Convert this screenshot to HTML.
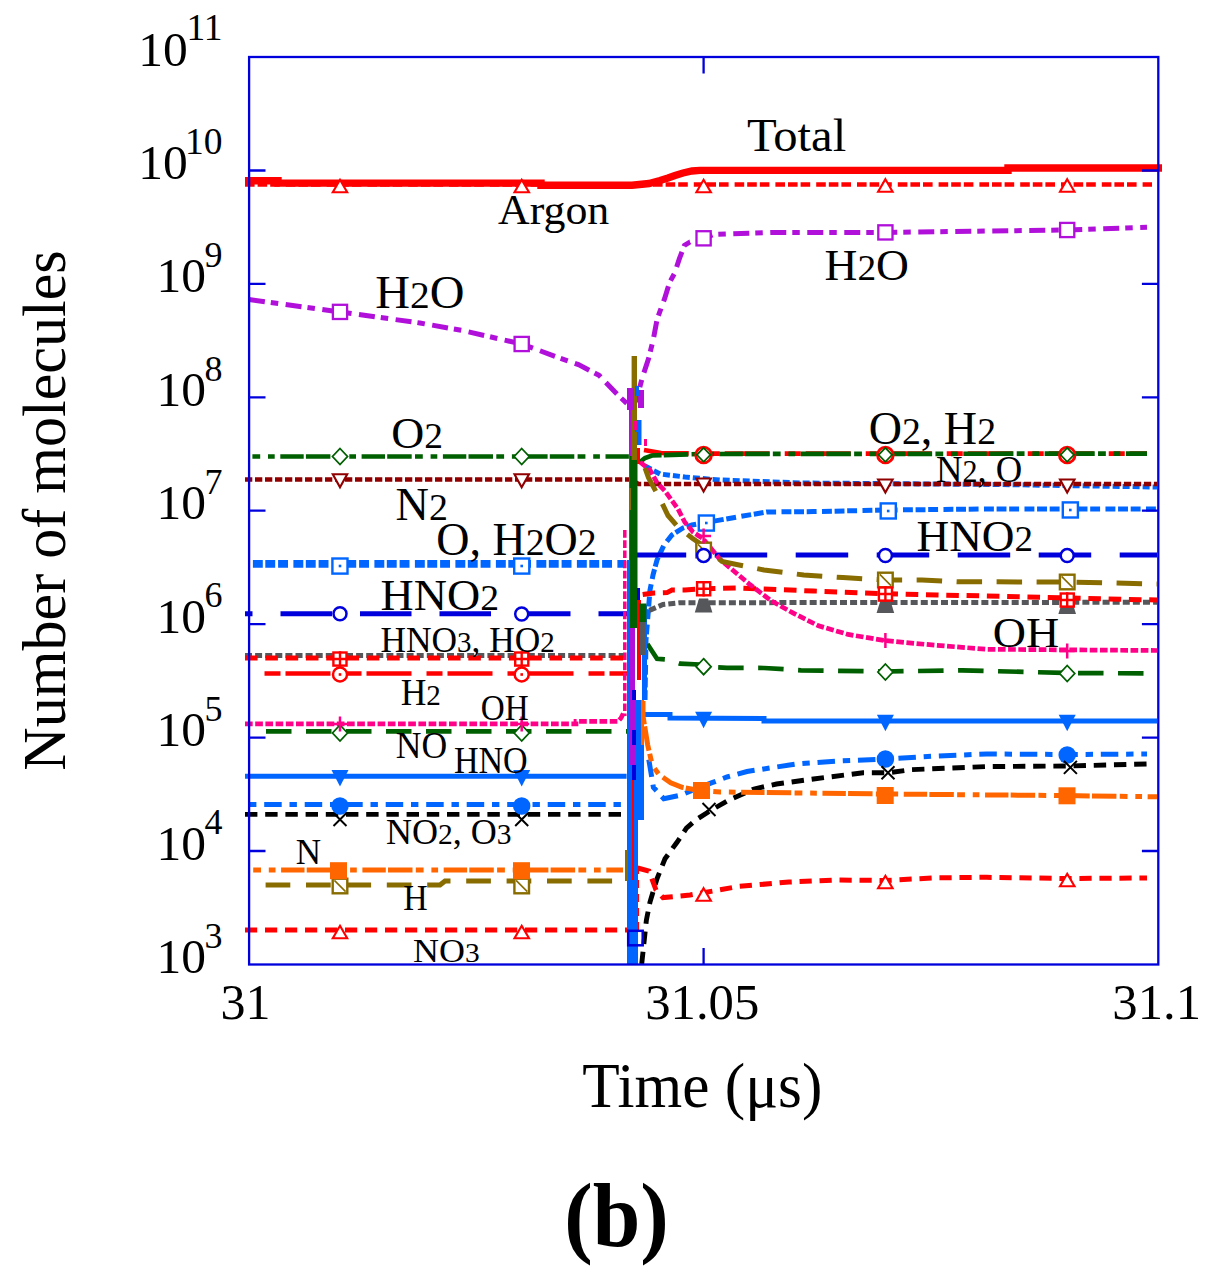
<!DOCTYPE html>
<html><head><meta charset="utf-8"><style>
html,body{margin:0;padding:0;background:#fff;}
svg{display:block;}
</style></head><body>
<svg width="1214" height="1276" viewBox="0 0 1214 1276">
<rect width="1214" height="1276" fill="#fff"/>
<polyline points="245.0,184.5 1152.0,184.5" fill="none" stroke="#ff0000" stroke-width="4.4" stroke-linecap="butt" stroke-linejoin="miter" stroke-dasharray="9.6,3,9.6,3,9.6,6"/>
<polyline points="245.0,180.7 278.0,180.7 278.0,183.1 541.0,183.1 541.0,185.3 632.0,185.3 649.0,183.5 660.0,180.5 668.0,178.0 675.0,175.5 683.0,173.0 692.0,171.0 700.0,170.4 1008.0,170.4 1008.0,168.0 1162.0,168.0" fill="none" stroke="#ff0000" stroke-width="7.4" stroke-linecap="butt" stroke-linejoin="miter"/>
<polyline points="249.0,299.5 340.0,311.9 420.0,323.0 462.0,330.4 521.7,344.0 559.5,358.0 578.5,364.6 599.0,375.3 618.8,396.0 628.7,405.0 632.0,408.0 637.0,398.0 642.0,378.6 648.5,358.8 653.4,339.0 657.2,318.8 664.6,298.7 669.5,282.6 674.5,273.5 679.4,258.7 684.4,245.5 690.0,242.0 703.7,238.5 714.0,234.4 771.0,232.5 885.0,232.4 1067.0,230.0 1147.0,227.3" fill="none" stroke="#b010da" stroke-width="5" stroke-linecap="butt" stroke-linejoin="miter" stroke-dasharray="16,6,7.5,7.5"/>
<polyline points="645.0,466.0 660.0,474.0 685.0,477.0 720.0,480.0 800.0,483.0 1000.0,484.5 1157.0,487.0" fill="none" stroke="#0066ff" stroke-width="5" stroke-linecap="butt" stroke-linejoin="miter" stroke-dasharray="7,3"/>
<polyline points="252.9,563.8 626.0,563.8" fill="none" stroke="#0066ff" stroke-width="7.8" stroke-linecap="butt" stroke-linejoin="miter" stroke-dasharray="9.9,2.5,9.9,2.9,9.9,5.4"/>
<polyline points="645.0,700.0 646.0,640.0 648.0,615.0 650.0,590.0 653.0,575.0 657.0,560.0 664.0,545.0 672.0,535.0 683.0,528.0 692.0,525.0 706.0,522.5 739.4,516.6 766.6,512.0 813.5,511.6 887.7,510.0 990.0,509.0 1157.0,509.0" fill="none" stroke="#0066ff" stroke-width="5" stroke-linecap="butt" stroke-linejoin="miter" stroke-dasharray="9.9,2.7,9.9,2.7,9.9,5.4"/>
<polyline points="245.0,479.5 630.0,479.5 638.6,484.0 1157.0,484.0" fill="none" stroke="#900000" stroke-width="4.7" stroke-linecap="butt" stroke-linejoin="miter" stroke-dasharray="7.3,2.7"/>
<polyline points="264.5,673.5 630.0,673.5" fill="none" stroke="#ff0000" stroke-width="4.7" stroke-linecap="butt" stroke-linejoin="miter" stroke-dasharray="45,15,16,5" stroke-dashoffset="60"/>
<polyline points="644.0,450.0 661.0,453.0 700.0,453.6 1147.0,453.6" fill="none" stroke="#ff0000" stroke-width="4.7" stroke-linecap="butt" stroke-linejoin="miter" stroke-dasharray="45,15,16,5"/>
<polyline points="252.4,456.5 630.0,456.5" fill="none" stroke="#005f00" stroke-width="4.7" stroke-linecap="butt" stroke-linejoin="miter" stroke-dasharray="23.4,2.2,24.5,3.3,7.8,7.8,6.7,5.6" stroke-dashoffset="53.4"/>
<polyline points="640.0,462.0 645.0,458.0 652.0,455.5 700.0,454.0 1147.0,453.6" fill="none" stroke="#005f00" stroke-width="4.7" stroke-linecap="butt" stroke-linejoin="miter" stroke-dasharray="23.4,2.2,24.5,3.3,7.8,7.8,6.7,5.6"/>
<polyline points="245.0,613.7 630.0,613.7" fill="none" stroke="#0000dc" stroke-width="5" stroke-linecap="butt" stroke-linejoin="miter" stroke-dasharray="51.5,28" stroke-dashoffset="44"/>
<polyline points="637.0,555.0 1157.0,555.0" fill="none" stroke="#0000dc" stroke-width="5" stroke-linecap="butt" stroke-linejoin="miter" stroke-dasharray="52.5,28.5" stroke-dashoffset="3.3"/>
<polyline points="245.0,655.4 630.0,655.4" fill="none" stroke="#55575a" stroke-width="5" stroke-linecap="butt" stroke-linejoin="miter" stroke-dasharray="7,3.1"/>
<polyline points="649.4,610.4 663.0,604.5 680.0,602.7 1157.0,602.3" fill="none" stroke="#55575a" stroke-width="5" stroke-linecap="butt" stroke-linejoin="miter" stroke-dasharray="7,3.1"/>
<polyline points="245.0,658.0 630.0,658.0" fill="none" stroke="#ff0000" stroke-width="5" stroke-linecap="butt" stroke-linejoin="miter" stroke-dasharray="12.6,7.7"/>
<polyline points="642.7,594.6 654.0,593.0 667.0,592.6 672.0,590.0 685.0,590.0 703.3,588.7 739.0,588.0 813.5,591.0 885.0,593.7 937.0,595.0 986.5,596.0 1067.0,598.0 1157.0,600.0" fill="none" stroke="#ff0000" stroke-width="5" stroke-linecap="butt" stroke-linejoin="miter" stroke-dasharray="12.6,7.7"/>
<polyline points="245.0,723.9 576.0,723.9 576.0,721.4 618.0,721.4 621.0,718.0 624.0,712.0" fill="none" stroke="#ff0088" stroke-width="4.7" stroke-linecap="butt" stroke-linejoin="miter" stroke-dasharray="7.7,2.5"/>
<polyline points="640.0,462.0 650.0,470.0 657.0,482.6 665.0,491.0 678.0,509.0 684.7,522.0 693.0,532.0 703.0,538.6 719.6,559.0 749.0,583.8 771.5,601.0 793.8,613.4 818.5,625.8 848.0,634.4 885.0,640.6 924.7,644.3 986.5,649.3 1157.0,650.5" fill="none" stroke="#ff0088" stroke-width="4.7" stroke-linecap="butt" stroke-linejoin="miter" stroke-dasharray="7.7,2.5"/>
<polyline points="266.0,731.3 630.0,731.3" fill="none" stroke="#005f00" stroke-width="4.7" stroke-linecap="butt" stroke-linejoin="miter" stroke-dasharray="25.5,14.5"/>
<polyline points="647.4,644.0 657.0,658.8 667.0,659.5 680.0,663.7 699.0,664.5 703.8,666.7 727.0,667.8 764.0,668.0 801.0,670.3 885.0,671.5 962.0,670.3 1066.8,673.0 1157.0,673.4" fill="none" stroke="#005f00" stroke-width="4.7" stroke-linecap="butt" stroke-linejoin="miter" stroke-dasharray="25.5,14.5"/>
<polyline points="245.0,776.3 626.6,776.3" fill="none" stroke="#0066ff" stroke-width="5" stroke-linecap="butt" stroke-linejoin="miter"/>
<polyline points="645.0,714.6 670.0,714.6 670.0,718.0 764.0,718.4 764.0,721.0 1157.0,721.0" fill="none" stroke="#0066ff" stroke-width="5" stroke-linecap="butt" stroke-linejoin="miter"/>
<polyline points="249.0,804.5 621.5,804.5" fill="none" stroke="#0066ff" stroke-width="5" stroke-linecap="butt" stroke-linejoin="miter" stroke-dasharray="17.5,7.8,7.4,7.8" stroke-dashoffset="25.3"/>
<polyline points="648.8,759.6 653.4,787.3 663.8,798.8 680.0,795.3 712.0,782.7 727.0,777.0 747.0,771.5 796.0,764.0 838.0,761.0 885.0,759.0 937.0,756.0 986.5,754.0 1066.8,754.5 1147.0,754.0" fill="none" stroke="#0066ff" stroke-width="5" stroke-linecap="butt" stroke-linejoin="miter" stroke-dasharray="17.5,7.8,7.4,7.8"/>
<polyline points="245.0,814.4 626.0,814.4" fill="none" stroke="#000000" stroke-width="4.9" stroke-linecap="butt" stroke-linejoin="miter" stroke-dasharray="12.4,7.8"/>
<polyline points="641.7,964.0 646.4,920.0 650.0,902.0 657.0,878.8 665.0,858.8 677.0,842.3 686.4,828.2 695.8,820.0 709.8,811.0 727.0,801.0 754.0,789.0 776.5,784.0 813.5,779.0 863.0,772.8 887.7,772.8 912.0,769.6 986.5,766.6 1066.8,766.0 1147.0,764.0" fill="none" stroke="#000000" stroke-width="4.9" stroke-linecap="butt" stroke-linejoin="miter" stroke-dasharray="12.4,7.8"/>
<polyline points="253.2,870.0 623.0,870.0" fill="none" stroke="#ff6600" stroke-width="5" stroke-linecap="butt" stroke-linejoin="miter" stroke-dasharray="23.4,2.2,24.5,3.3,7.8,7.8,6.7,5.6" stroke-dashoffset="53.4"/>
<polyline points="643.0,701.0 643.0,716.0 647.7,745.0 652.3,765.3 659.0,774.6 670.7,782.7 682.0,787.3 700.7,790.7 720.0,792.0 885.0,794.0 1066.8,795.6 1157.0,796.8" fill="none" stroke="#ff6600" stroke-width="5" stroke-linecap="butt" stroke-linejoin="miter" stroke-dasharray="23.4,2.2,24.5,3.3,7.8,7.8,6.7,5.6"/>
<polyline points="265.6,885.0 440.0,885.0 445.0,881.0 624.0,881.0" fill="none" stroke="#886c00" stroke-width="5" stroke-linecap="butt" stroke-linejoin="miter" stroke-dasharray="24.7,15.7"/>
<polyline points="645.0,468.0 648.5,477.7 660.0,499.0 668.0,515.5 678.0,527.0 692.0,538.0 703.6,546.0 722.0,561.5 739.0,565.0 764.0,570.0 803.7,575.0 843.0,577.6 885.0,580.0 922.0,580.0 959.0,581.8 1066.8,582.0 1157.0,584.0" fill="none" stroke="#886c00" stroke-width="5" stroke-linecap="butt" stroke-linejoin="miter" stroke-dasharray="25.5,14.5"/>
<polyline points="245.0,930.0 628.0,930.0" fill="none" stroke="#ff0000" stroke-width="5" stroke-linecap="butt" stroke-linejoin="miter" stroke-dasharray="12.2,7.8"/>
<polyline points="637.6,930.0 637.6,866.0" fill="none" stroke="#ff0000" stroke-width="3" stroke-linecap="butt" stroke-linejoin="miter" stroke-dasharray="8,6"/>
<polyline points="637.6,868.0 649.0,871.0 656.0,890.0 663.0,897.6 690.0,895.0 702.0,893.0 739.0,886.4 789.0,882.0 838.0,880.0 885.0,880.5 937.0,877.8 986.5,877.3 1066.8,878.5 1147.0,878.0" fill="none" stroke="#ff0000" stroke-width="5" stroke-linecap="butt" stroke-linejoin="miter" stroke-dasharray="12.2,7.8"/>
<rect x="627" y="700" width="17" height="120" fill="#0066ff"/>
<rect x="627" y="820" width="11" height="144" fill="#0066ff"/>
<rect x="627" y="560" width="3" height="140" fill="#0066ff"/>
<rect x="642" y="605" width="5" height="95" fill="#0066ff"/>
<rect x="629" y="388" width="6" height="377" fill="#b010da"/>
<rect x="630" y="456" width="7.5" height="172" fill="#005f00"/>
<rect x="637" y="588" width="3" height="28" fill="#0000dc"/>
<rect x="632" y="690" width="4" height="10" fill="#0000dc"/>
<rect x="632" y="730" width="4" height="15" fill="#0000dc"/>
<rect x="632" y="765" width="4" height="15" fill="#0000dc"/>
<rect x="637" y="448" width="3" height="16" fill="#ff0000"/>
<rect x="637" y="600" width="4" height="80" fill="#ff0000"/>
<rect x="632" y="780" width="2" height="100" fill="#ff0000"/>
<rect x="631.6" y="356" width="5.399999999999977" height="104" fill="#886c00"/>
<rect x="629" y="488" width="2" height="22" fill="#886c00"/>
<polyline points="624.8,530.0 624.8,716.0" fill="none" stroke="#ff0088" stroke-width="3.5" stroke-linecap="butt" stroke-linejoin="miter" stroke-dasharray="7.7,2.5"/>
<rect x="641" y="700" width="3" height="45" fill="#ff6600"/>
<rect x="640" y="611" width="5" height="44" fill="#55575a"/>
<rect x="625" y="850" width="3" height="31" fill="#886c00"/>
<rect x="639.5" y="603.5" width="6.899999999999977" height="18.5" fill="#005f00"/>
<rect x="628.2" y="930.8" width="14.5" height="14.5" fill="none" stroke="#0000dc" stroke-width="2.5"/>
<rect x="627" y="388" width="7" height="22" fill="#b010da"/>
<rect x="638" y="390" width="6" height="18" fill="#b010da"/>
<rect x="635" y="386" width="4" height="10" fill="#0066ff"/>
<rect x="635" y="424" width="4" height="8" fill="#0066ff"/>
<rect x="634" y="421" width="3" height="9" fill="#ff0088"/>
<rect x="644" y="439" width="3" height="7" fill="#ff0088"/>
<rect x="637" y="420" width="4.5" height="25" fill="#0066ff"/>
<polygon points="340.0,179.8 347.2,192.2 332.8,192.2" fill="#fff" stroke="#ff0000" stroke-width="2.1"/>
<polygon points="521.7,179.8 529.0,192.2 514.5,192.2" fill="#fff" stroke="#ff0000" stroke-width="2.1"/>
<polygon points="703.6,179.8 710.9,192.2 696.4,192.2" fill="#fff" stroke="#ff0000" stroke-width="2.1"/>
<polygon points="885.4,179.2 892.6,191.8 878.1,191.8" fill="#fff" stroke="#ff0000" stroke-width="2.1"/>
<polygon points="1067.2,179.2 1074.5,191.8 1060.0,191.8" fill="#fff" stroke="#ff0000" stroke-width="2.1"/>
<rect x="332.9" y="304.8" width="14.2" height="14.2" fill="#fff" stroke="#b010da" stroke-width="2.3"/>
<rect x="514.6" y="336.9" width="14.2" height="14.2" fill="#fff" stroke="#b010da" stroke-width="2.3"/>
<rect x="696.5" y="231.2" width="14.2" height="14.2" fill="#fff" stroke="#b010da" stroke-width="2.3"/>
<rect x="878.3" y="225.3" width="14.2" height="14.2" fill="#fff" stroke="#b010da" stroke-width="2.3"/>
<rect x="1060.1" y="222.9" width="14.2" height="14.2" fill="#fff" stroke="#b010da" stroke-width="2.3"/>
<polygon points="340.0,487.3 347.2,474.3 332.8,474.3" fill="#fff" stroke="#900000" stroke-width="2.1"/>
<polygon points="521.7,487.3 529.0,474.3 514.5,474.3" fill="#fff" stroke="#900000" stroke-width="2.1"/>
<polygon points="703.6,491.5 710.9,478.5 696.4,478.5" fill="#fff" stroke="#900000" stroke-width="2.1"/>
<polygon points="885.4,492.5 892.6,479.5 878.1,479.5" fill="#fff" stroke="#900000" stroke-width="2.1"/>
<polygon points="1067.2,492.5 1074.5,479.5 1060.0,479.5" fill="#fff" stroke="#900000" stroke-width="2.1"/>
<rect x="332.4" y="558.5" width="15.1" height="15.1" fill="#fff" stroke="#0066ff" stroke-width="2.4"/>
<rect x="338.7" y="564.7" width="2.6" height="2.6" fill="#0066ff"/>
<rect x="514.2" y="558.5" width="15.1" height="15.1" fill="#fff" stroke="#0066ff" stroke-width="2.4"/>
<rect x="520.4" y="564.7" width="2.6" height="2.6" fill="#0066ff"/>
<rect x="698.8" y="515.5" width="15.1" height="15.1" fill="#fff" stroke="#0066ff" stroke-width="2.4"/>
<rect x="705.0" y="521.7" width="2.6" height="2.6" fill="#0066ff"/>
<rect x="880.7" y="503.4" width="15.1" height="15.1" fill="#fff" stroke="#0066ff" stroke-width="2.4"/>
<rect x="886.9" y="509.7" width="2.6" height="2.6" fill="#0066ff"/>
<rect x="1062.8" y="502.4" width="15.1" height="15.1" fill="#fff" stroke="#0066ff" stroke-width="2.4"/>
<rect x="1069.0" y="508.7" width="2.6" height="2.6" fill="#0066ff"/>
<circle cx="340" cy="674.5" r="7.00" fill="#fff" stroke="#ff0000" stroke-width="2.5"/>
<rect x="338.7" y="673.2" width="2.6" height="2.6" fill="#ff0000"/>
<circle cx="521.7" cy="674.5" r="7.00" fill="#fff" stroke="#ff0000" stroke-width="2.5"/>
<rect x="520.4" y="673.2" width="2.6" height="2.6" fill="#ff0000"/>
<circle cx="703.6" cy="455" r="7.85" fill="#fff" stroke="#ff0000" stroke-width="2.8"/>
<rect x="702.3" y="453.7" width="2.6" height="2.6" fill="#ff0000"/>
<circle cx="885.4" cy="455" r="7.85" fill="#fff" stroke="#ff0000" stroke-width="2.8"/>
<rect x="884.1" y="453.7" width="2.6" height="2.6" fill="#ff0000"/>
<circle cx="1067.2" cy="455" r="7.85" fill="#fff" stroke="#ff0000" stroke-width="2.8"/>
<rect x="1065.9" y="453.7" width="2.6" height="2.6" fill="#ff0000"/>
<polygon points="340.0,448.5 347.5,456.5 340.0,464.5 332.5,456.5" fill="#fff" stroke="#005f00" stroke-width="1.8"/>
<polygon points="521.7,448.5 529.2,456.5 521.7,464.5 514.2,456.5" fill="#fff" stroke="#005f00" stroke-width="1.8"/>
<polygon points="703.6,447.8 710.4,454.8 703.6,461.8 696.9,454.8" fill="#fff" stroke="#005f00" stroke-width="1.8"/>
<polygon points="885.4,447.8 892.1,454.8 885.4,461.8 878.6,454.8" fill="#fff" stroke="#005f00" stroke-width="1.8"/>
<polygon points="1067.2,447.8 1074.0,454.8 1067.2,461.8 1060.5,454.8" fill="#fff" stroke="#005f00" stroke-width="1.8"/>
<rect x="332.7" y="878.7" width="14.6" height="14.6" fill="#fff" stroke="#886c00" stroke-width="2.4"/>
<path d="M334.4,880.4L345.6,891.6" stroke="#886c00" stroke-width="1.6" fill="none"/>
<rect x="514.4" y="878.7" width="14.6" height="14.6" fill="#fff" stroke="#886c00" stroke-width="2.4"/>
<path d="M516.1,880.4L527.3000000000001,891.6" stroke="#886c00" stroke-width="1.6" fill="none"/>
<rect x="696.3" y="542.7" width="14.6" height="14.6" fill="#fff" stroke="#886c00" stroke-width="2.4"/>
<path d="M698.0,544.4L709.2,555.6" stroke="#886c00" stroke-width="1.6" fill="none"/>
<rect x="878.1" y="572.7" width="14.6" height="14.6" fill="#fff" stroke="#886c00" stroke-width="2.4"/>
<path d="M879.8,574.4L891.0,585.6" stroke="#886c00" stroke-width="1.6" fill="none"/>
<rect x="1059.9" y="574.7" width="14.6" height="14.6" fill="#fff" stroke="#886c00" stroke-width="2.4"/>
<path d="M1061.6000000000001,576.4L1072.8,587.6" stroke="#886c00" stroke-width="1.6" fill="none"/>
<circle cx="340" cy="613.7" r="6.50" fill="#fff" stroke="#0000dc" stroke-width="2.5"/>
<circle cx="521.7" cy="614" r="6.50" fill="#fff" stroke="#0000dc" stroke-width="2.5"/>
<circle cx="703.6" cy="555.4" r="6.50" fill="#fff" stroke="#0000dc" stroke-width="2.5"/>
<circle cx="885.4" cy="555.5" r="6.50" fill="#fff" stroke="#0000dc" stroke-width="2.5"/>
<circle cx="1067.2" cy="555.6" r="6.50" fill="#fff" stroke="#0000dc" stroke-width="2.5"/>
<polygon points="699.1,598.5 708.1,598.5 712.4,612.5 694.8,612.5" fill="#55575a"/>
<polygon points="880.9,599.0 889.9,599.0 894.2,613.0 876.6,613.0" fill="#55575a"/>
<polygon points="1062.7,600.0 1071.7,600.0 1076.0,614.0 1058.4,614.0" fill="#55575a"/>
<rect x="333.4" y="652.5" width="13.1" height="13.1" fill="#fff" stroke="#ff0000" stroke-width="2.4"/>
<path d="M332.25,659H347.75M340,651.25V666.75" stroke="#ff0000" stroke-width="2.4" fill="none"/>
<rect x="515.2" y="652.5" width="13.1" height="13.1" fill="#fff" stroke="#ff0000" stroke-width="2.4"/>
<path d="M513.95,659H529.45M521.7,651.25V666.75" stroke="#ff0000" stroke-width="2.4" fill="none"/>
<rect x="697.1" y="582.2" width="13.1" height="13.1" fill="#fff" stroke="#ff0000" stroke-width="2.4"/>
<path d="M695.85,588.7H711.35M703.6,580.95V596.45" stroke="#ff0000" stroke-width="2.4" fill="none"/>
<rect x="878.9" y="587.5" width="13.1" height="13.1" fill="#fff" stroke="#ff0000" stroke-width="2.4"/>
<path d="M877.65,594H893.15M885.4,586.25V601.75" stroke="#ff0000" stroke-width="2.4" fill="none"/>
<rect x="1060.7" y="593.5" width="13.1" height="13.1" fill="#fff" stroke="#ff0000" stroke-width="2.4"/>
<path d="M1059.45,600H1074.95M1067.2,592.25V607.75" stroke="#ff0000" stroke-width="2.4" fill="none"/>
<polygon points="340.0,725.0 347.5,733.0 340.0,741.0 332.5,733.0" fill="#fff" stroke="#005f00" stroke-width="1.8"/>
<polygon points="521.7,725.0 529.2,733.0 521.7,741.0 514.2,733.0" fill="#fff" stroke="#005f00" stroke-width="1.8"/>
<polygon points="703.6,658.7 711.1,666.7 703.6,674.7 696.1,666.7" fill="#fff" stroke="#005f00" stroke-width="1.8"/>
<polygon points="885.4,664.0 892.9,672.0 885.4,680.0 877.9,672.0" fill="#fff" stroke="#005f00" stroke-width="1.8"/>
<polygon points="1067.2,665.5 1074.7,673.5 1067.2,681.5 1059.7,673.5" fill="#fff" stroke="#005f00" stroke-width="1.8"/>
<path d="M332.5,724H347.5M340,716.5V731.5" stroke="#ff0088" stroke-width="2.5" fill="none"/>
<path d="M514.2,724H529.2M521.7,716.5V731.5" stroke="#ff0088" stroke-width="2.5" fill="none"/>
<path d="M696.1,536H711.1M703.6,528.5V543.5" stroke="#ff0088" stroke-width="2.5" fill="none"/>
<path d="M877.9,640.6H892.9M885.4,633.1V648.1" stroke="#ff0088" stroke-width="2.5" fill="none"/>
<path d="M1059.7,651H1074.7M1067.2,643.5V658.5" stroke="#ff0088" stroke-width="2.5" fill="none"/>
<polygon points="340.0,786.4 348.5,770.0 331.5,770.0" fill="#0066ff" stroke="#0066ff" stroke-width="0"/>
<polygon points="521.7,786.4 530.2,770.0 513.2,770.0" fill="#0066ff" stroke="#0066ff" stroke-width="0"/>
<polygon points="703.6,728.2 712.1,711.8 695.1,711.8" fill="#0066ff" stroke="#0066ff" stroke-width="0"/>
<polygon points="885.4,731.2 893.9,714.8 876.9,714.8" fill="#0066ff" stroke="#0066ff" stroke-width="0"/>
<polygon points="1067.2,731.2 1075.7,714.8 1058.7,714.8" fill="#0066ff" stroke="#0066ff" stroke-width="0"/>
<circle cx="340" cy="806" r="8.75" fill="#0066ff"/>
<circle cx="521.7" cy="806" r="8.75" fill="#0066ff"/>
<circle cx="885.4" cy="759" r="8.75" fill="#0066ff"/>
<circle cx="1067.2" cy="755" r="8.75" fill="#0066ff"/>
<path d="M333.5,813.0L346.5,826.0M346.5,813.0L333.5,826.0" stroke="#000000" stroke-width="2" fill="none"/>
<path d="M515.2,813.0L528.2,826.0M528.2,813.0L515.2,826.0" stroke="#000000" stroke-width="2" fill="none"/>
<path d="M702.5,803.0L715.5,816.0M715.5,803.0L702.5,816.0" stroke="#000000" stroke-width="2" fill="none"/>
<path d="M881.5,766.3L894.5,779.3M894.5,766.3L881.5,779.3" stroke="#000000" stroke-width="2" fill="none"/>
<path d="M1063.9,760.9L1076.9,773.9M1076.9,760.9L1063.9,773.9" stroke="#000000" stroke-width="2" fill="none"/>
<rect x="330.0" y="862.2" width="17" height="17" fill="#ff6600"/>
<rect x="513.0" y="862.2" width="17" height="17" fill="#ff6600"/>
<rect x="693.0" y="782.0" width="17" height="17" fill="#ff6600"/>
<rect x="876.7" y="787.0" width="17" height="17" fill="#ff6600"/>
<rect x="1058.5" y="787.3" width="17" height="17" fill="#ff6600"/>
<polygon points="340.0,925.8 347.2,938.2 332.8,938.2" fill="#fff" stroke="#ff0000" stroke-width="2.1"/>
<polygon points="521.7,925.8 529.0,938.2 514.5,938.2" fill="#fff" stroke="#ff0000" stroke-width="2.1"/>
<polygon points="703.6,888.2 710.9,900.8 696.4,900.8" fill="#fff" stroke="#ff0000" stroke-width="2.1"/>
<polygon points="885.4,875.8 892.6,888.2 878.1,888.2" fill="#fff" stroke="#ff0000" stroke-width="2.1"/>
<polygon points="1067.2,873.8 1074.5,886.2 1060.0,886.2" fill="#fff" stroke="#ff0000" stroke-width="2.1"/>
<rect x="249.1" y="57" width="909.2" height="907.5" fill="none" stroke="#0000dc" stroke-width="2.3"/>
<path d="M249.1,851.0H265.5M1141.9,851.0H1158.3M249.1,737.6H265.5M1141.9,737.6H1158.3M249.1,624.1H265.5M1141.9,624.1H1158.3M249.1,510.7H265.5M1141.9,510.7H1158.3M249.1,397.3H265.5M1141.9,397.3H1158.3M249.1,283.9H265.5M1141.9,283.9H1158.3M249.1,170.5H265.5M1141.9,170.5H1158.3M703.6,57V73.4M703.6,948V964.5" stroke="#0000dc" stroke-width="2.3" fill="none"/>
<text transform="translate(746.93,151.00) scale(1.0457,1)" font-family="Liberation Serif, serif" font-size="46.52" font-weight="normal" fill="#000">Total</text>
<text transform="translate(498.06,223.50) scale(1.0149,1)" font-family="Liberation Serif, serif" font-size="43.18" font-weight="normal" fill="#000">Argon</text>
<text transform="translate(824.53,279.50) scale(1.0130,1)" font-family="Liberation Serif, serif" font-size="44.92" font-weight="normal" fill="#000">H<tspan font-size="36.84">2</tspan>O</text>
<text transform="translate(375.16,307.50) scale(1.0328,1)" font-family="Liberation Serif, serif" font-size="46.62" font-weight="normal" fill="#000">H<tspan font-size="38.22">2</tspan>O</text>
<text transform="translate(391.17,447.80) scale(1.0463,1)" font-family="Liberation Serif, serif" font-size="43.69" font-weight="normal" fill="#000">O<tspan font-size="35.83">2</tspan></text>
<text transform="translate(868.66,443.70) scale(1.0085,1)" font-family="Liberation Serif, serif" font-size="45.69" font-weight="normal" fill="#000">O<tspan font-size="37.47">2</tspan>, H<tspan font-size="37.47">2</tspan></text>
<text transform="translate(935.90,481.70) scale(0.9649,1)" font-family="Liberation Serif, serif" font-size="38.00" font-weight="normal" fill="#000">N<tspan font-size="31.16">2</tspan>, O</text>
<text transform="translate(395.61,519.80) scale(1.0151,1)" font-family="Liberation Serif, serif" font-size="45.54" font-weight="normal" fill="#000">N<tspan font-size="37.34">2</tspan></text>
<text transform="translate(436.26,554.50) scale(1.0108,1)" font-family="Liberation Serif, serif" font-size="45.54" font-weight="normal" fill="#000">O, H<tspan font-size="37.34">2</tspan>O<tspan font-size="37.34">2</tspan></text>
<text transform="translate(380.62,610.00) scale(1.0528,1)" font-family="Liberation Serif, serif" font-size="43.69" font-weight="normal" fill="#000">HNO<tspan font-size="35.83">2</tspan></text>
<text transform="translate(916.44,551.20) scale(1.0184,1)" font-family="Liberation Serif, serif" font-size="44.46" font-weight="normal" fill="#000">HNO<tspan font-size="36.46">2</tspan></text>
<text transform="translate(380.44,652.00) scale(0.9652,1)" font-family="Liberation Serif, serif" font-size="36.62" font-weight="normal" fill="#000">HNO<tspan font-size="30.02">3</tspan>, HO<tspan font-size="30.02">2</tspan></text>
<text transform="translate(992.66,646.80) scale(1.0759,1)" font-family="Liberation Serif, serif" font-size="42.77" font-weight="normal" fill="#000">OH</text>
<text transform="translate(400.63,705.30) scale(0.9592,1)" font-family="Liberation Serif, serif" font-size="37.08" font-weight="normal" fill="#000">H<tspan font-size="30.40">2</tspan></text>
<text transform="translate(480.67,720.10) scale(0.9180,1)" font-family="Liberation Serif, serif" font-size="36.15" font-weight="normal" fill="#000">OH</text>
<text transform="translate(395.73,758.40) scale(0.9607,1)" font-family="Liberation Serif, serif" font-size="37.08" font-weight="normal" fill="#000">NO</text>
<text transform="translate(453.88,773.20) scale(0.9196,1)" font-family="Liberation Serif, serif" font-size="37.08" font-weight="normal" fill="#000">HNO</text>
<text transform="translate(385.92,844.00) scale(1.0053,1)" font-family="Liberation Serif, serif" font-size="35.85" font-weight="normal" fill="#000">NO<tspan font-size="29.39">2</tspan>, O<tspan font-size="29.39">3</tspan></text>
<text transform="translate(295.75,864.00) scale(0.9660,1)" font-family="Liberation Serif, serif" font-size="36.31" font-weight="normal" fill="#000">N</text>
<text transform="translate(403.29,909.60) scale(0.9306,1)" font-family="Liberation Serif, serif" font-size="36.31" font-weight="normal" fill="#000">H</text>
<text transform="translate(412.92,961.50) scale(1.0534,1)" font-family="Liberation Serif, serif" font-size="34.15" font-weight="normal" fill="#000">NO<tspan font-size="28.01">3</tspan></text>
<text transform="translate(220.50,1018.50) scale(1.0000,1)" font-family="Liberation Serif, serif" font-size="50.00" font-weight="normal" fill="#000">31</text>
<text transform="translate(645.27,1018.50) scale(1.0139,1)" font-family="Liberation Serif, serif" font-size="50.00" font-weight="normal" fill="#000">31.05</text>
<text transform="translate(1112.37,1018.80) scale(1.0104,1)" font-family="Liberation Serif, serif" font-size="50.15" font-weight="normal" fill="#000">31.1</text>
<text x="222.6" y="947.6" font-family="Liberation Serif, serif" font-size="36" text-anchor="end" fill="#000">3</text>
<text x="156.4" y="972.9" font-family="Liberation Serif, serif" font-size="49.5" fill="#000">10</text>
<text x="222.6" y="834.2" font-family="Liberation Serif, serif" font-size="36" text-anchor="end" fill="#000">4</text>
<text x="156.4" y="859.5" font-family="Liberation Serif, serif" font-size="49.5" fill="#000">10</text>
<text x="222.6" y="720.8" font-family="Liberation Serif, serif" font-size="36" text-anchor="end" fill="#000">5</text>
<text x="156.4" y="746.1" font-family="Liberation Serif, serif" font-size="49.5" fill="#000">10</text>
<text x="222.6" y="607.3" font-family="Liberation Serif, serif" font-size="36" text-anchor="end" fill="#000">6</text>
<text x="156.4" y="632.6" font-family="Liberation Serif, serif" font-size="49.5" fill="#000">10</text>
<text x="222.6" y="493.9" font-family="Liberation Serif, serif" font-size="36" text-anchor="end" fill="#000">7</text>
<text x="156.4" y="519.2" font-family="Liberation Serif, serif" font-size="49.5" fill="#000">10</text>
<text x="222.6" y="380.5" font-family="Liberation Serif, serif" font-size="36" text-anchor="end" fill="#000">8</text>
<text x="156.4" y="405.8" font-family="Liberation Serif, serif" font-size="49.5" fill="#000">10</text>
<text x="222.6" y="267.1" font-family="Liberation Serif, serif" font-size="36" text-anchor="end" fill="#000">9</text>
<text x="156.4" y="292.4" font-family="Liberation Serif, serif" font-size="49.5" fill="#000">10</text>
<text x="222.5" y="153.7" font-family="Liberation Serif, serif" font-size="37.5" text-anchor="end" fill="#000">10</text>
<text x="138.2" y="179.0" font-family="Liberation Serif, serif" font-size="49.5" fill="#000">10</text>
<text x="222.5" y="40.2" font-family="Liberation Serif, serif" font-size="37.5" text-anchor="end" fill="#000">11</text>
<text x="138.2" y="65.5" font-family="Liberation Serif, serif" font-size="49.5" fill="#000">10</text>
<text transform="translate(582.27,1106.70) scale(0.9790,1)" font-family="Liberation Serif, serif" font-size="62.62" font-weight="normal" fill="#000">Time (μs)</text>
<text transform="translate(64.7,770.70) rotate(-90) scale(0.9769,1)" font-family="Liberation Serif, serif" font-size="61.5" fill="#000">Number of molecules</text>
<text transform="translate(564.28,1245.70) scale(0.9412,1)" font-family="Liberation Serif, serif" font-size="90.87" font-weight="bold" fill="#000">(b)</text>
</svg>
</body></html>
